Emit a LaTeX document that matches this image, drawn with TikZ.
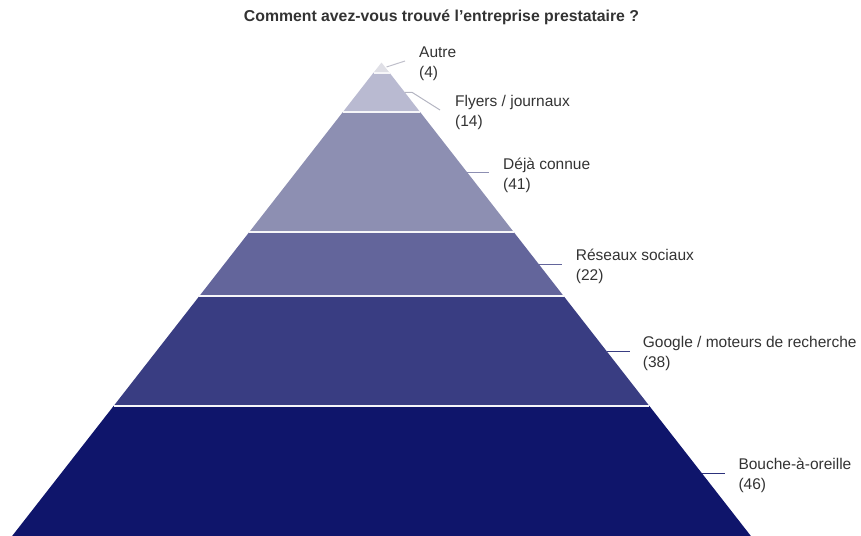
\documentclass[tikz,border=0pt]{standalone}
\usepackage{fontspec}
\setmainfont{Liberation Sans}
\usepackage{tikz}

\definecolor{cautre}{HTML}{DFDFE6}
\definecolor{cflyers}{HTML}{B9BAD1}
\definecolor{cdeja}{HTML}{8D8FB2}
\definecolor{creseaux}{HTML}{63659B}
\definecolor{cgoogle}{HTML}{393D82}
\definecolor{cbouche}{HTML}{0F156B}
\definecolor{ctext}{HTML}{333333}

\begin{document}
\begin{tikzpicture}[x=1pt,y=-1pt]
				\tikzstyle{lbl}=[anchor=west,inner sep=0pt,align=left,text=ctext,font=\fontsize{15.5}{20}\selectfont]
				\tikzstyle{sep}=[white!92!cdeja,line width=2pt]
				\tikzstyle{lead}=[line width=1pt]
				
				\useasboundingbox (0,0) rectangle (861,535);
				\clip (0,0) rectangle (861,535);
				
				% pyramid corners
				\coordinate (a) at (381.5,62.5);
				\coordinate (l1) at (373.5,72.7);
				\coordinate (r1) at (389.5,72.7);
				\coordinate (l2) at (342.9,112);
				\coordinate (r2) at (420.1,112);
				\coordinate (l3) at (249.3,232);
				\coordinate (r3) at (513.7,232);
				\coordinate (l4) at (199.4,296);
				\coordinate (r4) at (563.6,296);
				\coordinate (l5) at (113.6,406);
				\coordinate (r5) at (649.4,406);
				\coordinate (l6) at (9,540);
				\coordinate (r6) at (754,540);
				
				\fill[cautre] (a) -- (r1) -- (l1) -- cycle;
				\fill[cflyers] (l1) -- (r1) -- (r2) -- (l2) -- cycle;
				\fill[cdeja] (l2) -- (r2) -- (r3) -- (l3) -- cycle;
				\fill[creseaux] (l3) -- (r3) -- (r4) -- (l4) -- cycle;
				\fill[cgoogle] (l4) -- (r4) -- (r5) -- (l5) -- cycle;
				\fill[cbouche] (l5) -- (r5) -- (r6) -- (l6) -- cycle;
				
				\draw[sep] (l1) -- (r1);
				\draw[sep] (l2) -- (r2);
				\draw[sep] (l3) -- (r3);
				\draw[sep] (l4) -- (r4);
				\draw[sep] (l5) -- (r5);
				
				% title
				\node[text=ctext,font=\bfseries\fontsize{15.8}{18}\selectfont] (title) at (441.5,17) {Comment avez-vous trouvé l’entreprise prestataire ?};
				
				% labels
				\node[lbl] (autre) at (419,63.5) {Autre\\(4)};
				\node[lbl] (flyers) at (455,112.5) {Flyers / journaux\\(14)};
				\node[lbl] (deja) at (503,175) {Déjà connue\\(41)};
				\node[lbl] (reseaux) at (575.7,266.5) {Réseaux sociaux\\(22)};
				\node[lbl] (google) at (642.7,353.3) {Google / moteurs de recherche\\(38)};
				\node[lbl] (bouche) at (738.3,475) {Bouche-à-oreille\\(46)};
				
				% leader lines
				\coordinate (m1) at (386.5,67);
				\coordinate (e1) at (405,61);
				\coordinate (m2) at (404.7,92.3);
				\coordinate (k2) at (412,92.3);
				\coordinate (e2) at (440,110);
				\coordinate (m3) at (467,172);
				\coordinate (e3) at (489,172);
				\coordinate (m4) at (538,264);
				\coordinate (e4) at (561.7,264);
				\coordinate (m5) at (606.5,351);
				\coordinate (e5) at (630,351);
				\coordinate (m6) at (702,473.3);
				\coordinate (e6) at (725,473.3);
				
				\draw[lead,cflyers!80!black!60] (m1) -- (e1);
				\draw[lead,cflyers!80!black!70] (m2) -- (k2) -- (e2);
				\draw[lead,cdeja] (m3) -- (e3);
				\draw[lead,creseaux] (m4) -- (e4);
				\draw[lead,cgoogle] (m5) -- (e5);
				\draw[lead,cgoogle!70!cbouche] (m6) -- (e6);
\end{tikzpicture}
\end{document}
